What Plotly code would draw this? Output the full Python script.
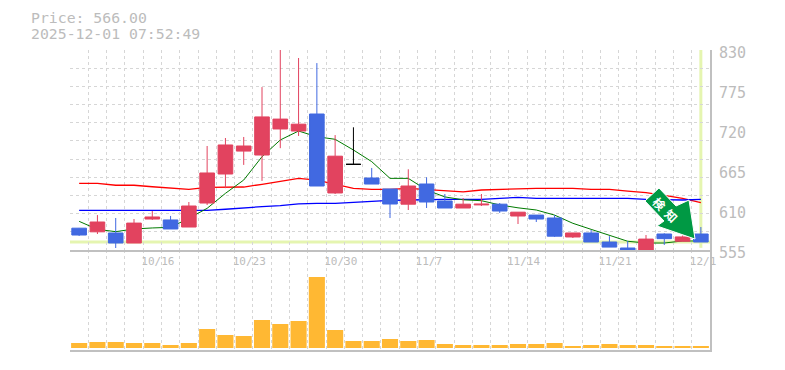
import plotly.graph_objects as go

dates = ["10/9","10/10","10/14","10/15","10/16","10/17","10/20","10/21","10/22","10/23","10/24","10/27","10/28","10/29","10/30",
         "10/31","11/4","11/5","11/6","11/7","11/10","11/11","11/12","11/13","11/14","11/17","11/18","11/19","11/20","11/21",
         "11/25","11/26","11/27","11/28","12/1"]
tick_labels = ["10/16","10/23","10/30","11/7","11/14","11/21","12/1"]
opens  = [585,580,578.4,564.6,597.6,596.3,586.6,619.6,659.5,691,685.6,721.4,718.6,742,633.4,672.8,654,638.9,618,645.75,
          622.4,612.75,617,618,601.75,603,599,572.9,578.4,566,557.75,554,577,567,577]
closes = [575.6,593.5,564.6,592,600.4,583.9,615.5,660.9,699.4,698,738,735,728,643,684,672.8,645.7,618.25,643,621,
          612.75,618,618,608.6,607,597.6,574,578.4,566,559,555,570,570.6,573,566]
highs  = [585.3,603,599,597.6,608.6,601.8,621,698,709,710.4,779,835,819,812,713,723.7,667.8,638.9,666,655,
          632,626.5,632,619.6,607,603,603,578.4,582.5,574,567.4,575.6,578,575,586.6]
lows   = [574.3,577,557.75,564.6,596.3,583.9,586.6,616.9,640,672,650,695,711.8,643,632,672.8,645.7,599,610,612.75,
          612.75,612.75,615.5,606,590.75,593.5,572.9,571.5,566,559,555,554,562,567,566]
volume = [5,6,6,5,5,3,5,19,13,12,28,24,27,71,18,7,7,9,7,8,4,3,3,3,4,4,5,2,3,4,3,3,2,2,2]
ma_short = [594.4,583.4,580.2,583.9,585.3,586.2,598.6,612.3,632.9,651.2,683.3,706.3,718.6,710.8,707.2,692.5,676.5,653.5,
            653.5,637.5,628,624,622.8,617,613,610,603,591.7,583.4,575.6,567,564.6,564.6,567.4,567.4]
ma_mid = [646.7,646.7,644,644,642,640.3,638.4,641.2,641.6,641.6,645.3,649,653.5,651.2,645.8,639.8,638.4,638.4,
          639.8,638.4,636,635,637.5,638.4,639.8,639.8,639.8,639.8,638.4,638.4,636,633.8,630,626,620]
ma_long = [609.5,609.5,609.5,609.5,609.5,609.5,609.5,609.5,611,612.3,614.6,616,618.3,619.2,619.2,620.5,622.4,623.3,
           623.75,624.7,624.7,624.7,624.7,626,627.4,626,626,626,626,626,626,624.7,623.75,623.75,624.7]
last_price = 566
title_lines = ["Price: 566.00", "2025-12-01 07:52:49"]
price_ticks = [555,610,665,720,775,830]
signal_glyphs = ["検", "知"]

W, H = 785, 370
L, R, T, B = 70, 710, 50, 350
GRID = "#d6d6d6"; AXIS = "#c0c0c0"; TXT = "#bcbcbc"
UP = "#e2435f"; DOWN = "#4169e1"; DOJI = "#000000"
MONO = "DejaVu Sans Mono"
xs = list(range(len(dates)))
def px(x, y): return (x - L) / (R - L), (B - y) / (B - T)

fig = go.Figure()
fig.add_trace(go.Scatter(x=xs, y=ma_mid, mode="lines", line=dict(color="#ff0000", width=1.3), xaxis="x2", yaxis="y"))
fig.add_trace(go.Scatter(x=xs, y=ma_long, mode="lines", line=dict(color="#0000ff", width=1.3), xaxis="x2", yaxis="y"))
fig.add_trace(go.Scatter(x=xs, y=ma_short, mode="lines", line=dict(color="#007a00", width=1), xaxis="x2", yaxis="y"))

def subset(test):
    idx = [i for i in xs if test(opens[i], closes[i])]
    return dict(x=idx, open=[opens[i] for i in idx], high=[highs[i] for i in idx],
                low=[lows[i] for i in idx], close=[closes[i] for i in idx])

for test, col in ((lambda o, c: c > o, UP), (lambda o, c: c < o, DOWN), (lambda o, c: c == o, DOJI)):
    fig.add_trace(go.Candlestick(**subset(test), xaxis="x2", yaxis="y3", whiskerwidth=0,
                                 increasing=dict(line=dict(color=col, width=1), fillcolor=col),
                                 decreasing=dict(line=dict(color=col, width=1), fillcolor=col)))

fig.add_trace(go.Bar(x=xs, y=volume, width=0.88, marker=dict(color="#ffb833", line=dict(width=0)), xaxis="x", yaxis="y2"))

minor_x = dict(tick0=-0.5, dtick=1, showgrid=True, gridcolor=GRID, griddash="3px,3px", gridwidth=1, ticklen=0)
tick_idx = [dates.index(t) for t in tick_labels]
fig.update_layout(
    width=W, height=H, autosize=False, showlegend=False,
    paper_bgcolor="white", plot_bgcolor="white",
    margin=dict(l=L, r=W - R, t=T, b=H - B, pad=0, autoexpand=False),
    boxgap=0.2, boxgroupgap=0, boxmode="overlay",
    xaxis=dict(domain=[0, 1], anchor="y2", range=[-0.5, 34.5], showgrid=False, showticklabels=False, ticks="",
               showline=True, linecolor=AXIS, linewidth=2, minor=minor_x, zeroline=False, rangeslider=dict(visible=False)),
    xaxis2=dict(domain=[0, 1], anchor="y", range=[-0.5, 34.5], showgrid=False, ticks="", tickmode="array",
                tickvals=tick_idx, ticktext=tick_labels, ticklabelposition="outside right", ticklabelshift=-12,
                tickfont=dict(family=MONO, size=11, color=TXT),
                showline=True, linecolor=AXIS, linewidth=2, minor=minor_x, zeroline=False, rangeslider=dict(visible=False)),
    yaxis=dict(domain=[1/3, 1], anchor="x2", side="right", range=[555, 830], tickmode="array", tickvals=price_ticks,
               showgrid=False, ticks="", ticklabelstandoff=4, ticklabelshift=3,
               tickfont=dict(family=MONO, size=15, color=TXT), zeroline=False,
               minor=dict(tick0=555, dtick=25, showgrid=True, gridcolor=GRID, griddash="3px,3px", gridwidth=1, ticklen=0),
               showline=True, linecolor=AXIS, linewidth=2),
    yaxis2=dict(domain=[0, 1/3], anchor="x", side="right", range=[-2, 98], showgrid=False, showticklabels=False,
                ticks="", zeroline=False, showline=True, linecolor=AXIS, linewidth=2),
    yaxis3=dict(overlaying="y", side="right", anchor="x2", range=[555, 830], visible=False),
    shapes=[
        dict(type="line", xref="x2", yref="y", x0=-0.5, x1=34.5, y0=last_price, y1=last_price,
             line=dict(color="#e5f5b0", width=3), layer="below"),
        dict(type="line", xref="x2", yref="y", x0=34, x1=34, y0=558, y1=830,
             line=dict(color="#e5f5b0", width=3), layer="below"),
    ],
)

arrow = [(659,188),(645,201),(664,221),(657,226),(695,239),(689,200),(676,206)]
p = [px(*a) for a in arrow]
path = "M " + " L ".join(f"{a:.4f},{b:.4f}" for a, b in p) + " Z"
fig.add_shape(type="path", xref="paper", yref="paper", path=path, fillcolor="#009944",
              line=dict(color="white", width=1), layer="above")

for glyph, pos in zip(signal_glyphs, ((660, 203), (672, 215))):
    ax, ay = px(*pos)
    fig.add_annotation(x=ax, y=ay, xref="paper", yref="paper", text=glyph, showarrow=False, textangle=45,
                       xanchor="center", yanchor="middle",
                       font=dict(family="Noto Sans CJK JP", size=12, color="white", weight="bold"))

for text, yp in zip(title_lines, (17.5, 33.5)):
    xa, ya = px(29, yp)
    fig.add_annotation(x=xa, y=ya, xref="paper", yref="paper", text=text, showarrow=False, xanchor="left",
                       yanchor="middle", font=dict(family=MONO, size=14.8, color=TXT))

fig.write_html("out.html", config=dict(displayModeBar=False), post_script="document.body.style.margin='0';")
